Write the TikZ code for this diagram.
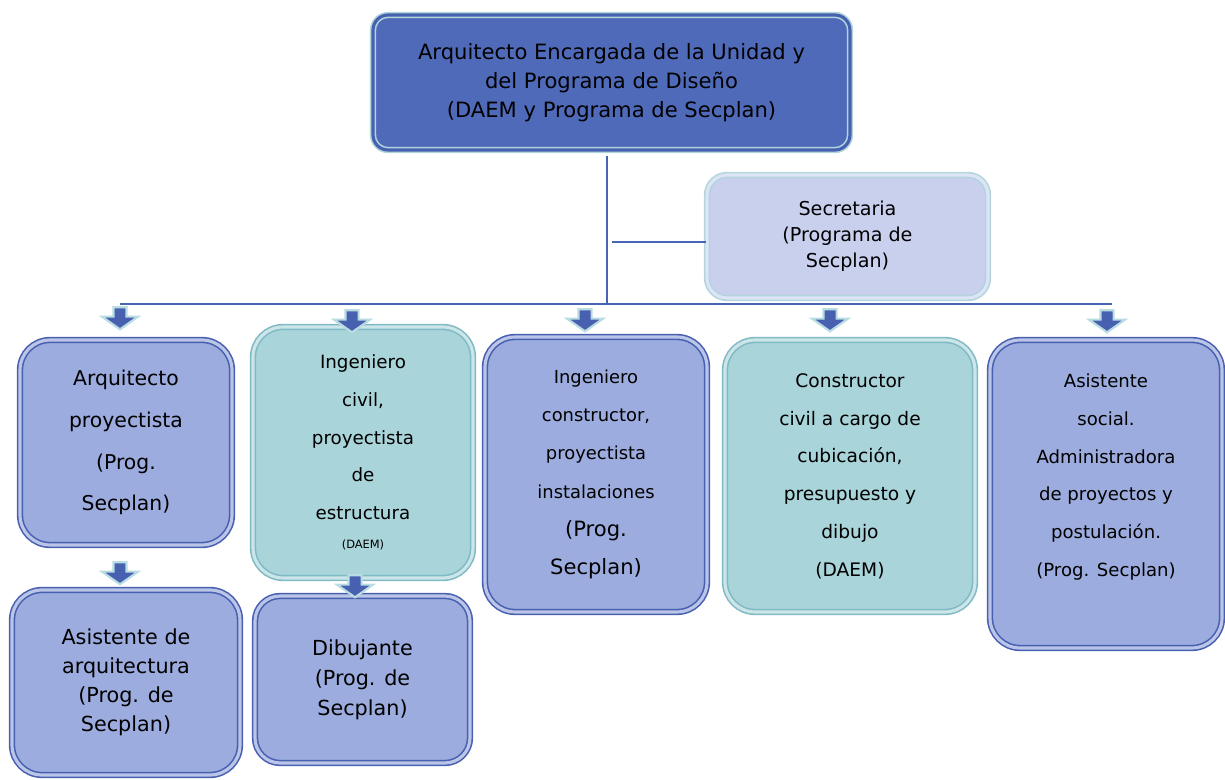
\documentclass[tikz,border=0pt]{standalone}
\usepackage{fontspec}
\setmainfont{DejaVu Sans}
\usepackage{tikz}
\usetikzlibrary{shapes,arrows,positioning}

\definecolor{topfill}{RGB}{80,106,186}
\definecolor{lavfill}{RGB}{156,172,222}
\definecolor{tealfill}{RGB}{168,212,218}
\definecolor{secfill}{RGB}{200,208,238}
\definecolor{edgeblue}{RGB}{72,96,176}
\definecolor{edgeteal}{RGB}{128,186,196}
\definecolor{edgelight}{RGB}{176,214,220}
\definecolor{lineblue}{RGB}{72,100,180}
\definecolor{arrowedge}{RGB}{184,220,226}

\tikzset{
    orgbox/.style={rounded corners=0.6cm, line width=0.9pt, double distance=1.8pt, align=center, inner sep=2pt},
    lavbox/.style={orgbox, fill=lavfill, draw=edgeblue, double=lavfill!70!white},
    tealbox/.style={orgbox, fill=tealfill, draw=edgeteal, double=tealfill!60!white},
    downarrow/.style={single arrow, shape border rotate=270, fill=edgeblue, draw=arrowedge, line width=1.2pt,
        minimum height=0.44cm, inner sep=0.11cm, single arrow head extend=0.23cm, single arrow tip angle=110},
    link/.style={draw=lineblue, line width=1.4pt}
}

\begin{document}
\begin{tikzpicture}[x=0.02cm, y=-0.02cm]
    \useasboundingbox (0,0) rectangle (1225,780);

    % Head of the unit
    \node[orgbox, rounded corners=0.3cm, fill=topfill, draw=edgelight, double=edgeblue, minimum width=9.54cm, minimum height=2.7cm,
        font=\fontsize{12}{16.6}\selectfont] (jefa) at (611.5,82.5)
        {Arquitecto Encargada de la Unidad y\\del Programa de Diseño\\(DAEM y Programa de Secplan)};
    \node[orgbox, rounded corners=0.4cm, fill=secfill, draw=edgelight, double=secfill!60!white, minimum width=5.62cm, minimum height=2.46cm,
        font=\fontsize{10.9}{14.7}\selectfont] (secre) at (847.5,236.5)
        {Secretaria\\(Programa de\\Secplan)};

    % Staff
    \node[lavbox, minimum width=4.24cm, minimum height=4.1cm, font=\fontsize{11.6}{23.8}\selectfont] (arqp) at (126,442.5)
        {Arquitecto\\proyectista\\(Prog.\\Secplan)};
    \node[tealbox, minimum width=4.4cm, minimum height=5.02cm, font=\fontsize{10.4}{21.5}\selectfont] (ingc) at (363,452.5)
        {Ingeniero\\civil,\\proyectista\\de\\estructura\\[-5pt]{\fontsize{6.5}{10}\selectfont (DAEM)}};
    \node[lavbox, minimum width=4.44cm, minimum height=5.5cm, font=\fontsize{10.2}{21.8}\selectfont] (ingi) at (596,474.5)
        {Ingeniero\\constructor,\\proyectista\\instalaciones\\{\fontsize{12}{22}\selectfont (Prog.}\\{\fontsize{12}{22}\selectfont Secplan)}};
    \node[tealbox, minimum width=5.0cm, minimum height=5.44cm, font=\fontsize{10.6}{21.5}\selectfont] (cons) at (850,476)
        {Constructor\\civil a cargo de\\cubicación,\\presupuesto y\\dibujo\\(DAEM)};
    \node[lavbox, minimum width=4.64cm, minimum height=6.16cm, font=\fontsize{10.3}{21.5}\selectfont] (asoc) at (1106,494)
        {Asistente\\social.\\Administradora\\de proyectos y\\postulación.\\(Prog. Secplan)\\\mbox{}};
    \node[lavbox, minimum width=4.56cm, minimum height=3.7cm, font=\fontsize{11.8}{16.6}\selectfont] (asar) at (126,682.5)
        {Asistente de\\arquitectura\\(Prog. de\\Secplan)};
    \node[lavbox, rounded corners=0.5cm, minimum width=4.3cm, minimum height=3.34cm, font=\fontsize{11.8}{17}\selectfont] (dibu) at (362.5,679.5)
        {Dibujante\\(Prog. de\\Secplan)};

    % Lines
    \coordinate (tronco) at (607,304);
    \coordinate (busl) at (120,304);
    \coordinate (busr) at (1112,304);
    \draw[link] (tronco |- jefa.south) ++(0,5) -- (tronco);
    \draw[link] ([yshift=-0.11cm]secre.west) -- ([xshift=0.1cm,yshift=-0.11cm]tronco |- secre.west);
    \draw[link] (busl) -- (busr);

    % Arrows
    \node[downarrow] (ar1) at (120,316) {};
    \node[downarrow] (ar2) at (352,319) {};
    \node[downarrow] (ar3) at (585,318) {};
    \node[downarrow] (ar4) at (830,318) {};
    \node[downarrow] (ar5) at (1107,319) {};
    \node[downarrow] (ar6) at (120,571) {};
    \node[downarrow] (ar7) at (355,584) {};
\end{tikzpicture}
\end{document}
